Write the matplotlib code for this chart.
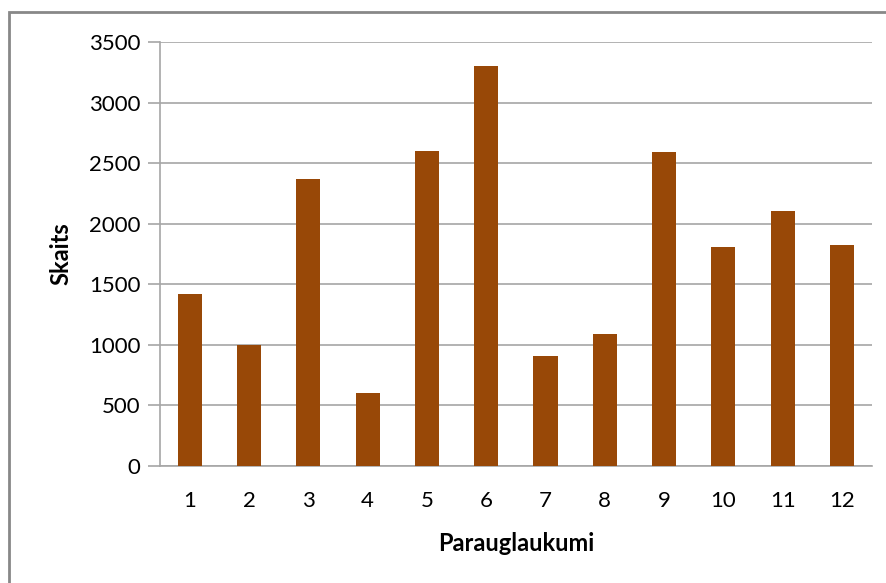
import matplotlib.pyplot as plt
import matplotlib.patches as mpatches
import numpy as np

plt.rcParams['font.family'] = ['Lato', 'DejaVu Sans']

categories = ['1', '2', '3', '4', '5', '6', '7', '8', '9', '10', '11', '12']
counts = [1417, 995, 2367, 598, 2604, 3304, 904, 1086, 2590, 1805, 2103, 1827]
yticks = [0, 500, 1000, 1500, 2000, 2500, 3000, 3500]

W, H = 887, 583
fig = plt.figure(figsize=(W / 100, H / 100), dpi=100)
ax = fig.add_axes([160 / W, 1 - 465.7 / H, (871.7 - 160) / W, (465.7 - 42.3) / H])

x = np.arange(len(categories))
ax.bar(x, counts, width=0.405, color='#984807', zorder=3)
ax.set_xlim(-0.5, len(categories) - 0.5)
ax.set_ylim(0, 3500)
ax.set_yticks(yticks)
ax.set_xticks(x)
ax.set_xticklabels(categories)
ax.yaxis.grid(True, color='#a6a6a6', linewidth=1.2, zorder=0)
ax.tick_params(axis='y', length=9, width=1.2, color='#a6a6a6', labelsize=16, pad=5)
ax.tick_params(axis='x', length=0, labelsize=16, pad=18)
for s in ['top', 'right']:
    ax.spines[s].set_visible(False)
for s in ['left', 'bottom']:
    ax.spines[s].set_color('#a6a6a6')
    ax.spines[s].set_linewidth(1.2)

ax.set_ylabel('Skaits', fontsize=17, fontweight='bold', labelpad=12)
ax.set_xlabel('Parauglaukumi', fontsize=17, fontweight='bold', labelpad=15)

# outer chart border
fig.patches.append(mpatches.Rectangle((9 / W, -0.05), 1.2, 1 - 12 / H + 0.05,
                                      transform=fig.transFigure, fill=False,
                                      edgecolor='#888888', linewidth=2))

fig.savefig('out.png', dpi=100)
